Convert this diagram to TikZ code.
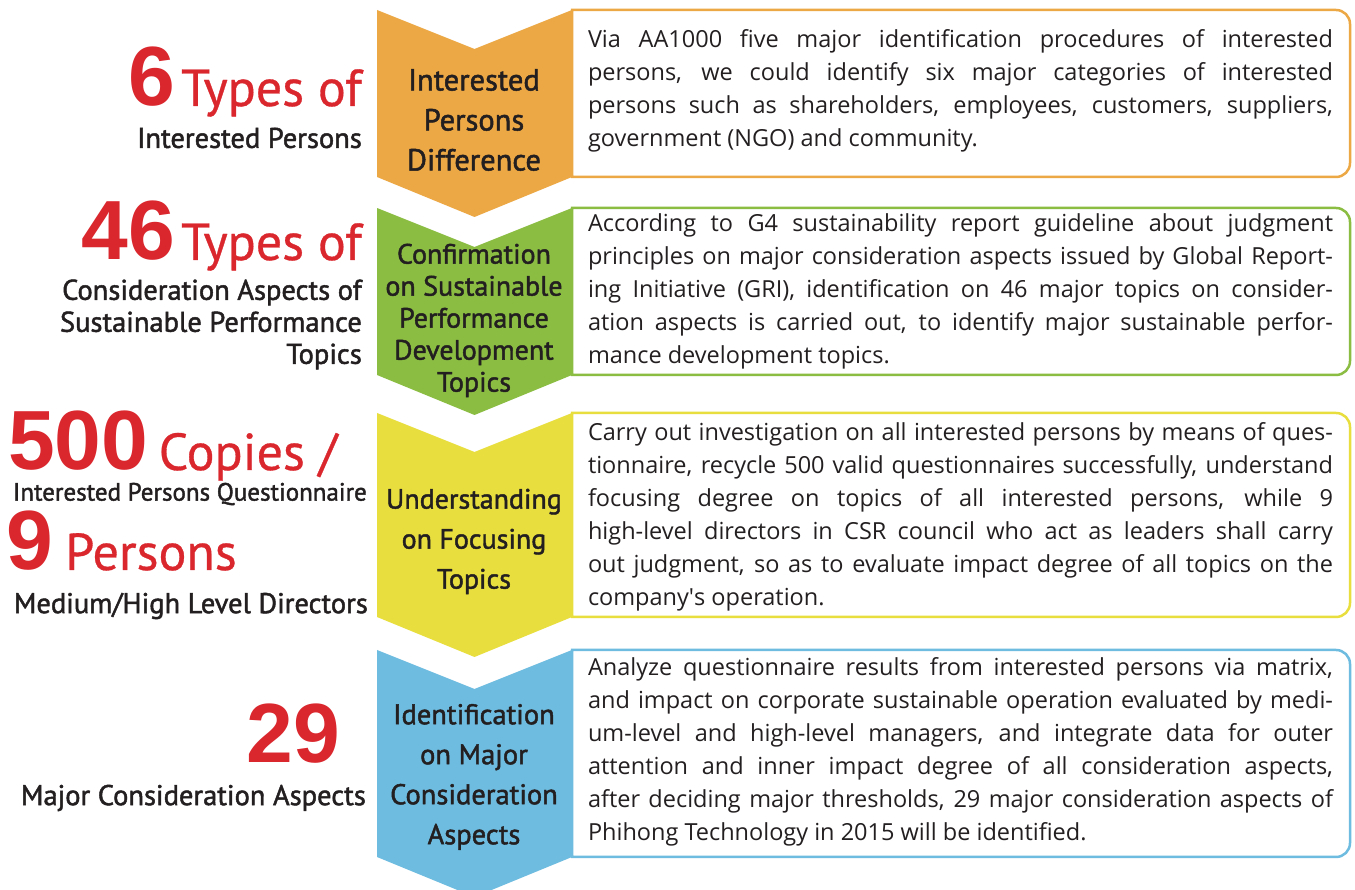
\documentclass[tikz,border=0pt]{standalone}
\usepackage{fontspec}
\setmainfont{Open Sans}
\newfontfamily\labelfont[FakeBold=0.6]{PT Sans}
\newfontfamily\notefont[FakeBold=1.6]{PT Sans}
\newfontfamily\numfont{Liberation Sans}
\usepackage{tikz}
\usetikzlibrary{positioning}

\definecolor{stepOrange}{RGB}{236,168,69}
\definecolor{stepGreen}{RGB}{139,189,67}
\definecolor{stepYellow}{RGB}{232,223,63}
\definecolor{stepBlue}{RGB}{110,188,224}
\definecolor{numRed}{RGB}{218,38,45}
\definecolor{inkGray}{RGB}{35,31,32}

\hyphenpenalty=10000
\tolerance=10000

\tikzset{
  panel/.style={line width=2.5pt, fill=white},
  paneltext/.style={text width=745pt, align=justify, inner sep=0pt, text=inkGray,
    font=\fontsize{23.5}{33}\selectfont},
  steptext/.style={align=center, inner sep=0pt, text=inkGray},
  bignum/.style={inner sep=0pt, text=numRed, font=\numfont\bfseries\fontsize{84}{84}\selectfont},
  bigunit/.style={inner sep=0pt, text=numRed, font=\labelfont\fontsize{52}{52}\selectfont},
  note/.style={inner sep=0pt, align=right, text=inkGray, font=\notefont\fontsize{28.5}{32}\selectfont}
}

\begin{document}
\begin{tikzpicture}[x=1pt,y=1pt]

\useasboundingbox (0,0) rectangle (1355,890);
\fill[white] (0,0) rectangle (1355,890);

% Draw the four framed panels, rounded on the right only.
\draw[panel,draw=stepOrange] (572,713) -- (572,880) -- (1336,880) arc[start angle=90,end angle=0,radius=14]
  -- (1350,727) arc[start angle=0,end angle=-90,radius=14] -- cycle;
\draw[panel,draw=stepGreen]  (572,515) -- (572,682) -- (1336,682) arc[start angle=90,end angle=0,radius=14]
  -- (1350,529) arc[start angle=0,end angle=-90,radius=14] -- cycle;
\draw[panel,draw=stepYellow] (572,273) -- (572,477) -- (1336,477) arc[start angle=90,end angle=0,radius=14]
  -- (1350,287) arc[start angle=0,end angle=-90,radius=14] -- cycle;
\draw[panel,draw=stepBlue]   (572,33) -- (572,240) -- (1336,240) arc[start angle=90,end angle=0,radius=14]
  -- (1350,47) arc[start angle=0,end angle=-90,radius=14] -- cycle;

% Draw the chevron arrows.
\fill[stepOrange] (377,880) -- (474.5,841) -- (572,880) -- (572,713) -- (474.5,673) -- (377,713) -- cycle;
\fill[stepGreen]  (377,682) -- (474.5,643) -- (572,682) -- (572,515) -- (474.5,475) -- (377,515) -- cycle;
\fill[stepYellow] (377,477) -- (474.5,438) -- (572,477) -- (572,273) -- (474.5,233) -- (377,273) -- cycle;
\fill[stepBlue]   (377,240) -- (474.5,201) -- (572,240) -- (572,33) -- (474.5,-7) -- (377,33) -- cycle;

\node[steptext, font=\notefont\fontsize{30.5}{40}\selectfont] (diffstep) at (474,770)
  {Interested\\Persons\\Difference};
\node[steptext, font=\notefont\fontsize{28}{32}\selectfont] (confirmstep) at (474,569.5)
  {Confirmation\\on Sustainable\\Performance\\Development\\Topics};
\node[steptext, font=\notefont\fontsize{28}{40}\selectfont] (focusstep) at (474,348.5)
  {Understanding\\on Focusing\\Topics};
\node[steptext, font=\notefont\fontsize{28.5}{40}\selectfont] (identstep) at (474,113)
  {Identification\\on Major\\Consideration\\Aspects};

% Panel texts.
\node[paneltext] (diffpanel) at (960.5,799.5)
  {Via AA1000 five major identification procedures of interested\linebreak
   persons, we could identify six major categories of interested\linebreak
   persons such as shareholders, employees, customers, suppliers,\linebreak
   government (NGO) and community.};
\node[paneltext] (confirmpanel) at (960.5,599)
  {According to G4 sustainability report guideline about judgment\linebreak
   principles on major consideration aspects issued by Global Report-\linebreak
   ing Initiative (GRI), identification on 46 major topics on consider-\linebreak
   ation aspects is carried out, to identify major sustainable perfor-\linebreak
   mance development topics.};
\node[paneltext] (focuspanel) at (960.5,373)
  {Carry out investigation on all interested persons by means of ques-\linebreak
   tionnaire, recycle 500 valid questionnaires successfully, understand\linebreak
   focusing degree on topics of all interested persons, while 9\linebreak
   high-level directors in CSR council who act as leaders shall carry\linebreak
   out judgment, so as to evaluate impact degree of all topics on the\linebreak
   company\textquotesingle s operation.};
\node[paneltext] (identpanel) at (960.5,138)
  {Analyze questionnaire results from interested persons via matrix,\linebreak
   and impact on corporate sustainable operation evaluated by medi-\linebreak
   um-level and high-level managers, and integrate data for outer\linebreak
   attention and inner impact degree of all consideration aspects,\linebreak
   after deciding major thresholds, 29 major consideration aspects of\linebreak
   Phihong Technology in 2015 will be identified.};

% Left hand figures.
\node[bigunit, anchor=base east] (sixunit) at (362,784) {Types of};
\node[bignum, anchor=base east] (sixnum) at ([xshift=-6pt]sixunit.base west) {6};
\node[note, anchor=east] (sixnote) at (362,752) {Interested Persons};

\node[bigunit, anchor=base east] (fortysixunit) at (362,630) {Types of};
\node[bignum, anchor=base east] (fortysixnum) at ([xshift=-6pt]fortysixunit.base west) {46};
\node[note, anchor=east] (fortysixnote) at (362,565.5)
  {Consideration Aspects of\\Sustainable Performance\\Topics};

\node[bignum, anchor=base west] (copiesnum) at (8,420) {500};
\node[bigunit, anchor=base west] (copiesunit) at ([xshift=10pt]copiesnum.base east) {Copies /};
\node[note, anchor=east, font=\notefont\fontsize{25}{28}\selectfont] (copiesnote) at (367,396)
  {Interested Persons Questionnaire};
\node[bignum, anchor=base west] (ninenum) at (6,320) {9};
\node[bigunit, anchor=base west] (nineunit) at ([xshift=12pt]ninenum.base east) {Persons};
\node[note, anchor=east] (ninenote) at (368,284) {Medium/High Level Directors};

\node[bignum, anchor=base east] (twentyninenum) at (340,127) {29};
\node[note, anchor=east] (twentyninenote) at (366,92) {Major Consideration Aspects};

\end{tikzpicture}
\end{document}
